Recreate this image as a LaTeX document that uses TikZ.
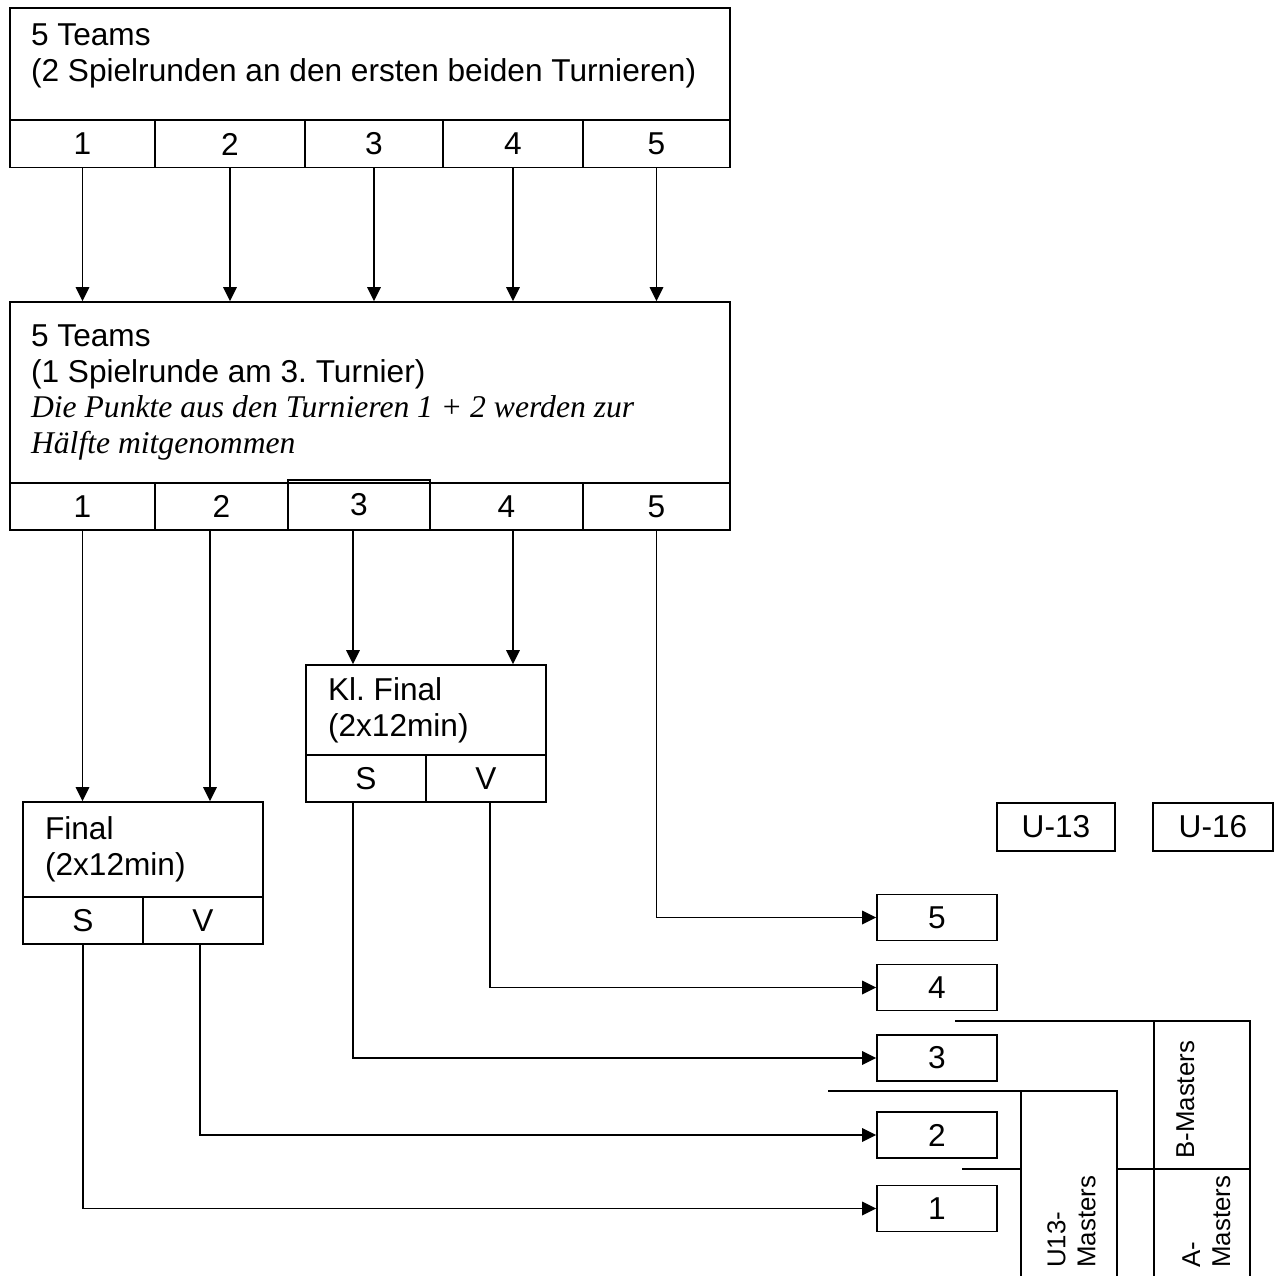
\documentclass[tikz,border=0pt]{standalone}
\usepackage{fontspec}
\setmainfont{Liberation Sans}
\newfontfamily\serifit{Liberation Serif}
\usetikzlibrary{arrows.meta,positioning}
\frenchspacing

\begin{document}
\begin{tikzpicture}[x=0.02cm, y=-0.02cm,
    every node/.style={font=\fontsize{18}{20.4}\selectfont},
    box/.style={draw, line width=1pt, inner sep=0pt, align=flush left},
    cell/.style={draw, line width=1pt, inner sep=0pt, minimum height=0.94cm},
    res/.style={cell, minimum width=2.4cm, minimum height=0.92cm},
    rot/.style={rotate=90, anchor=north west, inner sep=0pt, align=flush left, font=\fontsize{14.7}{17}\selectfont},
    arr/.style={-{Triangle[length=0.28cm,width=0.27cm]}, line width=1pt}
]
\useasboundingbox (0,0) rectangle (1282,1276);

% Turniere 1 und 2
\node[box, minimum width=14.4cm, minimum height=2.24cm, text width=13.56cm, text depth=1.17cm] (top1) at (370,64) {5 Teams\\(2 Spielrunden an den ersten beiden Turnieren)};
\node[cell, minimum width=2.9cm] (a1) at (82.5,144) {1};
\node[cell, minimum width=3.0cm] (a2) at (230,144) {2};
\node[cell, minimum width=2.76cm] (a3) at (374,144) {3};
\node[cell, minimum width=2.8cm] (a4) at (513,144) {4};
\node[cell, minimum width=2.94cm] (a5) at (656.5,144) {5};

% Turnier 3
\node[box, minimum width=14.4cm, minimum height=3.62cm, text width=13.56cm] (top2) at (370,392.5) {5 Teams\\(1 Spielrunde am 3. Turnier)\\{\serifit\itshape Die Punkte aus den Turnieren 1 + 2 werden zur}\\{\serifit\itshape H\"alfte mitgenommen}};
\node[cell, minimum width=2.9cm] (d1) at (82.5,506.5) {1};
\node[cell, minimum width=2.66cm] (d2) at (221.5,506.5) {2};
\node[cell, minimum width=2.84cm, minimum height=1.0cm] (d3) at (359,505) {3};
\node[cell, minimum width=3.06cm] (d4) at (506.5,506.5) {4};
\node[cell, minimum width=2.94cm] (d5) at (656.5,506.5) {5};

% Kl. Final
\node[box, minimum width=4.8cm, minimum height=1.8cm, text width=3.92cm] (klfin) at (426,710) {Kl. Final\\(2x12min)};
\node[cell, minimum width=2.4cm] (klS) at (366,778.5) {S};
\node[cell, minimum width=2.4cm] (klV) at (486,778.5) {V};

% Final
\node[box, minimum width=4.8cm, minimum height=1.9cm, text width=3.92cm] (fin) at (143,849.5) {Final\\(2x12min)};
\node[cell, minimum width=2.4cm] (finS) at (83,920.5) {S};
\node[cell, minimum width=2.4cm] (finV) at (203,920.5) {V};

% Rangliste
\node[res] (r5) at (937,917.5) {5};
\node[res] (r4) at (937,987.5) {4};
\node[res] (r3) at (937,1058) {3};
\node[res] (r2) at (937,1135) {2};
\node[res] (r1) at (937,1208.5) {1};

\node[cell, minimum width=2.36cm, minimum height=0.96cm] (u13) at (1056,827) {U-13};
\node[cell, minimum width=2.4cm, minimum height=0.96cm] (u16) at (1213,827) {U-16};

% Pfeile
\foreach \n in {1,...,5}
    \draw[arr] (a\n.south) -- (a\n.south |- top2.north);
\draw[arr] (d1.south) -- (d1.south |- fin.north);
\draw[arr] ([xshift=-0.23cm]d2.south) -- ([xshift=-0.23cm]d2.south |- fin.north);
\draw[arr] ([xshift=-0.12cm]d3.south) -- ([xshift=-0.12cm]d3.south |- klfin.north);
\draw[arr] ([xshift=0.13cm]d4.south) -- ([xshift=0.13cm]d4.south |- klfin.north);
\draw[arr] (d5.south) |- (r5.west);
\draw[arr] ([xshift=0.08cm]klV.south) |- (r4.west);
\draw[arr] ([xshift=-0.26cm]klS.south) |- (r3.west);
\draw[arr] ([xshift=-0.06cm]finV.south) |- (r2.west);
\draw[arr] (finS.south) |- (r1.west);

% Masters
\draw[line width=1pt] (955,1021) -- (1250,1021) -- (1250,1276);
\draw[line width=1pt] (1154,1021) -- (1154,1276);
\draw[line width=1pt] (1117,1169) -- (1250,1169);
\draw[line width=1pt] (828,1091) -- (1117,1091) -- (1117,1276);
\draw[line width=1pt] (1021,1091) -- (1021,1276);
\draw[line width=1pt] (962,1169) -- (1021,1169);
\node[rot] (bmast) at (1176,1159) {B-Masters};
\node[rot] (u13mast) at (1047,1268) {U13-\\Masters};
\node[rot] (amast) at (1182,1268) {A-\\Masters};
\end{tikzpicture}
\end{document}
